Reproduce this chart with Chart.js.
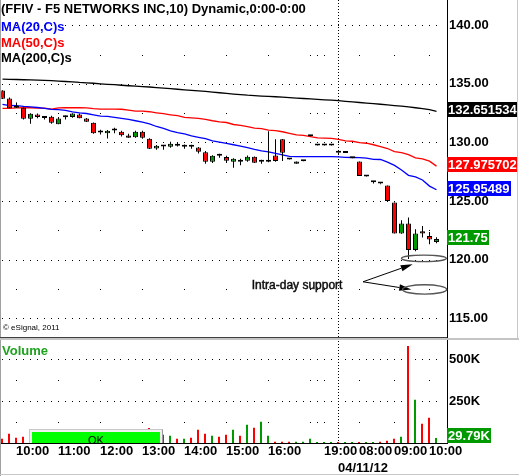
<!DOCTYPE html>
<html>
<head>
<meta charset="utf-8">
<title>FFIV 10-minute chart</title>
<script src="https://cdn.jsdelivr.net/npm/chart.js@4.4.1/dist/chart.umd.min.js"></script>
<style>
  html, body { margin: 0; padding: 0; background: #fff; }
  body { width: 519px; height: 476px; position: relative; overflow: hidden; font-family: "Liberation Sans", Arial, sans-serif; }
  canvas { position: absolute; left: 0; }
  #priceChart { top: 0; }
  #volumeChart { top: 338px; }
  .txt { position: absolute; white-space: nowrap; font-weight: bold; font-size: 13px; line-height: 15px; }
  .rule { position: absolute; }
</style>
</head>
<body>
<canvas id="priceChart" width="519" height="338"></canvas>
<canvas id="volumeChart" width="519" height="138"></canvas>

<div class="txt" style="left:1px;top:1px;color:#000">(FFIV - F5 NETWORKS INC,10) Dynamic,0:00-0:00</div>
<div class="txt" style="left:1px;top:19px;color:#0000ff">MA(20,C)s</div>
<div class="txt" style="left:1px;top:35px;color:#ff0000">MA(50,C)s</div>
<div class="txt" style="left:1px;top:50px;color:#000">MA(200,C)s</div>
<div class="txt" style="left:3px;top:323px;font-weight:normal;font-size:8px;line-height:10px;color:#000">&copy; eSignal, 2011</div>
<div class="txt" style="left:2px;top:343px;color:#1fa01f">Volume</div>

<div class="rule" style="left:0;top:0;width:1px;height:476px;background:#a0a0a0"></div>
<div class="rule" style="left:0;top:337px;width:447px;height:1px;background:#404040"></div>
<div class="rule" style="left:0;top:338px;width:519px;height:2px;background:#c4c4c4"></div>
<div class="rule" style="left:517px;top:0;width:1px;height:338px;background:#c8c8c8"></div>
<div class="rule" style="left:0;top:474px;width:519px;height:1px;background:#c8c8c8"></div>

<div style="position:absolute;left:29px;top:429px;width:134px;height:14px;overflow:hidden">
  <div style="box-sizing:border-box;width:134px;height:24px;border:1px solid #9a9a9a;border-top-color:#c8c8c8;border-left-color:#c8c8c8;background:#f0f0f0;padding:2px">
    <div style="background:#00ff00;height:100%;box-sizing:border-box;padding-top:1px;font:11px 'Liberation Sans',Arial,sans-serif;line-height:14px;text-align:center;color:#000">OK</div>
  </div>
</div>

<script>
// 10-minute bars, 04/10/12 09:40 through 04/11/12 10:00
const hourTicks = [2, 8, 14, 20, 26, 32, 38, 46, 51, 56, 61];
const hourLabels = ['10:00', '11:00', '12:00', '13:00', '14:00', '15:00', '16:00', '19:00', '08:00', '09:00', '10:00'];
const gridHours = [2, 8, 14, 20, 26, 32, 38, 44, 45, 46, 51, 56, 61];
const dayBreak = 48;
const dayLabel = '04/11/12';

const open = [
  134.43, 133.75, 133.00, 132.96, 132.02, 132.39, 132.11, 132.19, 131.56, 132.15,
  132.16, 132.39, 132.05, 131.68, 130.86, 130.79, 131.01, 130.91, 130.60, 130.45,
  130.91, 130.32, 129.49, 129.68, 129.63, 129.89, 129.62, 129.64, 129.57, 129.15,
  128.35, 128.88, 128.75, 128.35, 128.52, 128.44, 128.78, 128.34, 128.34, 128.89,
  130.26, 128.56, 128.18, 128.39, 130.53, 129.73, 129.73, 129.73, 129.13, 129.09,
  128.64, 128.38, 127.09, 126.60, 126.51, 126.33, 124.86, 122.22, 123.07, 120.82,
  122.41, 122.01, 121.50
];
const high = [
  134.45, 133.84, 133.41, 133.07, 132.50, 132.47, 132.24, 132.28, 132.16, 132.30,
  132.50, 132.47, 132.08, 131.70, 131.08, 131.05, 131.25, 131.00, 130.74, 131.00,
  131.00, 130.35, 129.77, 129.72, 130.06, 130.00, 129.83, 129.80, 129.60, 129.26,
  128.90, 129.04, 128.87, 128.65, 128.61, 128.89, 128.80, 128.52, 130.96, 130.26,
  130.30, 128.56, 128.38, 128.41, 130.55, 129.75, 129.75, 129.75, 129.13, 129.11,
  128.66, 128.38, 127.11, 126.62, 126.51, 126.33, 124.86, 123.35, 123.58, 122.58,
  122.86, 122.35, 121.90
];
const low = [
  133.70, 132.92, 132.95, 131.96, 131.59, 132.07, 131.96, 131.59, 131.56, 131.96,
  132.10, 132.07, 131.74, 130.74, 130.68, 130.34, 130.79, 130.51, 130.40, 130.40,
  130.32, 129.44, 129.38, 129.38, 129.55, 129.66, 129.46, 129.46, 129.06, 128.18,
  128.24, 128.70, 128.24, 127.84, 128.06, 128.35, 128.25, 128.18, 128.30, 128.35,
  128.41, 128.54, 128.18, 128.39, 130.53, 129.73, 129.73, 129.73, 128.92, 129.09,
  128.64, 127.13, 127.09, 126.50, 126.42, 125.00, 122.22, 122.20, 120.05, 120.70,
  121.88, 121.30, 121.40
];
const close = [
  133.73, 132.92, 132.97, 132.02, 132.45, 132.16, 132.09, 131.68, 132.05, 132.17,
  132.47, 132.07, 131.76, 130.79, 130.84, 131.00, 131.03, 130.62, 130.40, 130.91,
  130.40, 129.46, 129.72, 129.65, 129.89, 129.72, 129.64, 129.62, 129.21, 128.35,
  128.87, 128.86, 128.44, 128.61, 128.35, 128.78, 128.27, 128.36, 128.36, 128.42,
  129.12, 128.54, 128.38, 128.41, 130.55, 129.75, 129.75, 129.75, 129.11, 129.11,
  128.66, 127.13, 127.11, 126.62, 126.49, 125.00, 122.22, 123.07, 120.82, 122.22,
  122.22, 121.70, 121.75
];
const volume = [
  26000, 55000, 32000, 38000, 45000, 30000, 25000, 50000, 40000, 22000,
  35000, 28000, 33000, 70000, 30000, 42000, 25000, 36000, 30000, 40000,
  45000, 89000, 50000, 49000, 43000, 26000, 26000, 32000, 79000, 55000,
  43000, 38000, 49000, 79000, 43000, 109000, 91000, 127000, 43000, 8000,
  8000, 8000, 7000, 7000, 26000, 6000, 6000, 6000, 6000, 6000,
  6000, 6000, 6000, 6000, 8000, 14000, 25000, 37000, 579000, 258000,
  115000, 151000, 29790
];
const ma20 = [
  133.24, 133.15, 133.14, 133.07, 133.03, 132.98, 132.90, 132.82, 132.80, 132.73,
  132.60, 132.52, 132.47, 132.36, 132.25, 132.22, 132.13, 132.05, 131.96, 131.85,
  131.73, 131.58, 131.36, 131.19, 130.98, 130.83, 130.72, 130.55, 130.43, 130.32,
  130.14, 130.03, 129.91, 129.80, 129.68, 129.55, 129.40, 129.28, 129.19, 129.06,
  128.93, 128.81, 128.78, 128.78, 128.78, 128.78, 128.78, 128.78, 128.77, 128.72,
  128.71, 128.70, 128.66, 128.56, 128.54, 128.32, 128.04, 127.64, 127.19, 127.05,
  126.79, 126.27, 125.95489
];
const ma50 = [
  132.90, 132.91, 132.95, 132.96, 132.96, 132.93, 132.92, 132.85, 132.95, 132.96,
  132.96, 132.96, 132.95, 132.88, 132.84, 132.84, 132.84, 132.83, 132.75, 132.68,
  132.67, 132.62, 132.53, 132.45, 132.36, 132.28, 132.13, 132.10, 132.05, 131.96,
  131.85, 131.76, 131.70, 131.53, 131.45, 131.34, 131.22, 131.17, 131.05, 131.01,
  130.91, 130.77, 130.64, 130.60, 130.49, 130.39, 130.37, 130.34, 130.26, 130.13,
  130.10, 129.98, 129.93, 129.80, 129.65, 129.48, 129.22, 129.12, 128.95, 128.68,
  128.60, 128.40, 127.975702
];
const ma200 = [
  135.40, 135.39, 135.37, 135.35, 135.34, 135.32, 135.30, 135.28, 135.24, 135.20,
  135.17, 135.12, 135.09, 135.05, 135.00, 134.96, 134.93, 134.88, 134.84, 134.81,
  134.77, 134.73, 134.68, 134.63, 134.59, 134.54, 134.49, 134.44, 134.40, 134.35,
  134.30, 134.24, 134.19, 134.13, 134.08, 134.03, 134.00, 133.96, 133.93, 133.90,
  133.86, 133.82, 133.79, 133.75, 133.71, 133.67, 133.64, 133.61, 133.57, 133.51,
  133.46, 133.41, 133.36, 133.31, 133.26, 133.21, 133.15, 133.09, 133.04, 132.96,
  132.89, 132.80, 132.651534
];

const priceTicks = [115, 120, 125, 130, 135, 140];
const priceMinor = [117.5, 122.5, 127.5, 132.5, 137.5];
const volTicks = [250000, 500000];
const volMinor = [125000, 375000];

// annotation, in bar index / price units
const noteText = 'Intra-day support';
const notePos = { x: 35.6, y: 117.8 };
const arrowFrom = { x: 51.5, y: 118.1 };
const arrowTips = [{ x: 58.6, y: 119.6 }, { x: 58.4, y: 117.45 }];
const rings = [
  { x: 60.2, y: 120.1, rx: 3.2, ry: 0.28 },
  { x: 60.3, y: 117.45, rx: 3.15, ry: 0.4 }
];

const GREEN = '#009900';
const RED = '#ff0000';
const FONT = '"Liberation Sans", Arial, sans-serif';
const boldFont = { family: FONT, size: 13, weight: 'bold' };

const barIdx = close.map((c, i) => i);
const upColor = barIdx.map(i => close[i] >= open[i] ? GREEN : RED);

function valueBox(ctx, yPix, left, text, bg, maxBottom) {
  ctx.font = 'bold 13px ' + FONT;
  const w = Math.ceil(ctx.measureText(text).width) + 2;
  let top = Math.round(yPix) - 9;
  if (maxBottom !== undefined) top = Math.min(top, maxBottom - 15);
  ctx.fillStyle = bg;
  ctx.fillRect(left, top, w, 15);
  ctx.fillStyle = '#fff';
  ctx.textAlign = 'left';
  ctx.textBaseline = 'middle';
  ctx.fillText(text, left + 1, top + 8);
}

function arrow(ctx, x0, y0, x1, y1) {
  const ang = Math.atan2(y1 - y0, x1 - x0);
  const len = 12, half = 3.2;
  const bx = x1 - len * Math.cos(ang), by = y1 - len * Math.sin(ang);
  ctx.beginPath();
  ctx.moveTo(x0, y0);
  ctx.lineTo(bx, by);
  ctx.stroke();
  ctx.beginPath();
  ctx.moveTo(x1, y1);
  ctx.lineTo(bx + half * Math.sin(ang), by - half * Math.cos(ang));
  ctx.lineTo(bx - half * Math.sin(ang), by + half * Math.cos(ang));
  ctx.closePath();
  ctx.fill();
}

const priceDecor = {
  id: 'priceDecor',
  beforeDatasetsDraw(chart) {
    const { ctx, chartArea: a, scales: { x, y } } = chart;
    ctx.save();
    ctx.fillStyle = '#000';
    priceTicks.forEach(v => {
      const py = Math.round(y.getPixelForValue(v));
      barIdx.forEach(i => ctx.fillRect(Math.floor(x.getPixelForValue(i)), py, 1, 1));
    });
    priceMinor.forEach(v => {
      const py = Math.round(y.getPixelForValue(v));
      gridHours.forEach(i => ctx.fillRect(Math.floor(x.getPixelForValue(i)), py, 1, 1));
    });
    const sx = Math.floor(x.getPixelForValue(dayBreak)) + 0.5;
    ctx.strokeStyle = '#000';
    ctx.lineWidth = 1;
    ctx.setLineDash([1, 2]);
    ctx.beginPath();
    ctx.moveTo(sx, a.top);
    ctx.lineTo(sx, a.bottom);
    ctx.stroke();
    ctx.restore();
  },
  afterDraw(chart) {
    const { ctx, chartArea: a, scales: { x, y } } = chart;
    const last = close.length - 1;
    ctx.save();
    valueBox(ctx, y.getPixelForValue(ma200[last]), a.right, String(ma200[last]), '#000');
    valueBox(ctx, y.getPixelForValue(ma50[last]), a.right, String(ma50[last]), '#ff0000');
    valueBox(ctx, y.getPixelForValue(ma20[last]), a.right, String(ma20[last]), '#0000ff');
    valueBox(ctx, y.getPixelForValue(close[last]), a.right, String(close[last]), GREEN);

    // annotation text, slightly heavier like the original's smeared type
    const tx = x.getPixelForValue(notePos.x), ty = y.getPixelForValue(notePos.y);
    ctx.fillStyle = '#000';
    ctx.strokeStyle = '#1a1a1a';
    ctx.lineWidth = 0.5;
    ctx.font = '12px ' + FONT;
    ctx.textAlign = 'left';
    ctx.textBaseline = 'middle';
    ctx.fillText(noteText, tx, ty);
    ctx.strokeText(noteText, tx, ty);

    ctx.strokeStyle = '#000';
    ctx.fillStyle = '#000';
    ctx.lineWidth = 1;
    const fx = x.getPixelForValue(arrowFrom.x), fy = y.getPixelForValue(arrowFrom.y);
    arrowTips.forEach(t => arrow(ctx, fx, fy, x.getPixelForValue(t.x), y.getPixelForValue(t.y)));

    ctx.strokeStyle = '#555';
    ctx.lineWidth = 1.4;
    rings.forEach(r => {
      const cx = x.getPixelForValue(r.x), cy = y.getPixelForValue(r.y);
      const rx = x.getPixelForValue(r.x + r.rx) - cx;
      const ry = cy - y.getPixelForValue(r.y + r.ry);
      ctx.beginPath();
      ctx.ellipse(cx, cy, rx, ry, 0, 0, Math.PI * 2);
      ctx.stroke();
    });
    ctx.restore();
  }
};

const volumeDecor = {
  id: 'volumeDecor',
  beforeDatasetsDraw(chart) {
    const { ctx, chartArea: a, scales: { x, y } } = chart;
    ctx.save();
    ctx.fillStyle = '#000';
    volTicks.forEach(v => {
      const py = Math.round(y.getPixelForValue(v));
      barIdx.forEach(i => ctx.fillRect(Math.floor(x.getPixelForValue(i)), py, 1, 1));
    });
    volMinor.forEach(v => {
      const py = Math.round(y.getPixelForValue(v));
      gridHours.forEach(i => ctx.fillRect(Math.floor(x.getPixelForValue(i)), py, 1, 1));
    });
    const sx = Math.floor(x.getPixelForValue(dayBreak)) + 0.5;
    ctx.strokeStyle = '#000';
    ctx.lineWidth = 1;
    ctx.setLineDash([1, 2]);
    ctx.beginPath();
    ctx.moveTo(sx, 0);
    ctx.lineTo(sx, a.bottom);
    ctx.stroke();
    ctx.restore();
  },
  afterDraw(chart) {
    const { ctx, chartArea: a, scales: { x, y } } = chart;
    const last = volume.length - 1;
    ctx.save();
    valueBox(ctx, y.getPixelForValue(volume[last]), a.right, (volume[last] / 1000).toFixed(2) + 'K', GREEN, a.bottom);
    ctx.fillStyle = '#000';
    ctx.font = 'bold 13px ' + FONT;
    ctx.textAlign = 'left';
    ctx.textBaseline = 'middle';
    ctx.fillText(dayLabel, Math.floor(x.getPixelForValue(dayBreak)), a.bottom + 25);
    ctx.restore();
  }
};

const common = {
  responsive: false,
  animation: false,
  devicePixelRatio: 1,
  events: [],
  plugins: { legend: { display: false }, tooltip: { enabled: false } }
};

new Chart(document.getElementById('priceChart'), {
  type: 'bar',
  data: {
    datasets: [
      {
        label: 'body',
        data: barIdx.map(i => ({ x: i, y: [open[i], close[i]] })),
        backgroundColor: upColor,
        borderColor: '#000',
        borderWidth: 1,
        borderSkipped: false,
        inflateAmount: 0,
        barThickness: 5,
        minBarLength: 2,
        grouped: false,
        order: 0
      },
      {
        label: 'wick',
        data: barIdx.map(i => ({ x: i, y: [low[i], high[i]] })),
        backgroundColor: '#000',
        borderWidth: 0,
        inflateAmount: 0,
        barThickness: 1,
        minBarLength: 1,
        grouped: false,
        order: 1
      },
      { type: 'line', label: 'MA(20,C)s', data: barIdx.map(i => ({ x: i, y: ma20[i] })), borderColor: '#0000ff', borderWidth: 1.3, pointRadius: 0, order: 2 },
      { type: 'line', label: 'MA(50,C)s', data: barIdx.map(i => ({ x: i, y: ma50[i] })), borderColor: '#ff0000', borderWidth: 1.3, pointRadius: 0, order: 3 },
      { type: 'line', label: 'MA(200,C)s', data: barIdx.map(i => ({ x: i, y: ma200[i] })), borderColor: '#000', borderWidth: 1.3, pointRadius: 0, order: 4 }
    ]
  },
  options: {
    ...common,
    layout: { padding: 0 },
    scales: {
      x: { type: 'linear', display: false, offset: false, min: -2.5 / 7, max: -2.5 / 7 + 447 / 7 },
      y: {
        position: 'right',
        min: 113.30,
        max: 142.16,
        beginAtZero: false,
        grid: { display: false, drawTicks: false },
        border: { color: '#000', width: 1 },
        ticks: { color: '#000', font: boldFont, padding: 2, callback: v => v.toFixed(2) },
        afterBuildTicks: s => { s.ticks = priceTicks.map(v => ({ value: v })); },
        afterFit: s => { s.width = 72; s.paddingTop = 0; s.paddingBottom = 0; }
      }
    }
  },
  plugins: [priceDecor]
});

new Chart(document.getElementById('volumeChart'), {
  type: 'bar',
  data: {
    datasets: [{
      label: 'Volume',
      data: barIdx.map(i => ({ x: i, y: volume[i] })),
      backgroundColor: upColor,
      borderWidth: 0,
      inflateAmount: 0,
      barThickness: 2
    }]
  },
  options: {
    ...common,
    layout: { padding: { top: 2, left: 0, right: 0, bottom: 0 } },
    scales: {
      x: {
        type: 'linear',
        offset: false,
        bounds: 'data',
        min: -2 / 7,
        max: -2 / 7 + 447 / 7,
        grid: { display: false, drawTicks: false },
        border: { color: '#000', width: 1 },
        ticks: {
          color: '#000', font: boldFont, padding: 1, align: 'start',
          autoSkip: false, maxRotation: 0, minRotation: 0,
          callback: v => hourLabels[hourTicks.indexOf(v)]
        },
        afterBuildTicks: s => { s.ticks = hourTicks.map(v => ({ value: v })); },
        afterFit: s => { s.height = 33; s.paddingLeft = 0; s.paddingRight = 0; }
      },
      y: {
        position: 'right',
        min: 0,
        max: 615000,
        grid: { display: false, drawTicks: false },
        border: { color: '#000', width: 1 },
        ticks: { color: '#000', font: boldFont, padding: 2, callback: v => (v / 1000) + 'K' },
        afterBuildTicks: s => { s.ticks = volTicks.map(v => ({ value: v })); },
        afterFit: s => { s.width = 72; s.paddingTop = 0; s.paddingBottom = 0; }
      }
    }
  },
  plugins: [volumeDecor]
});
</script>
</body>
</html>
